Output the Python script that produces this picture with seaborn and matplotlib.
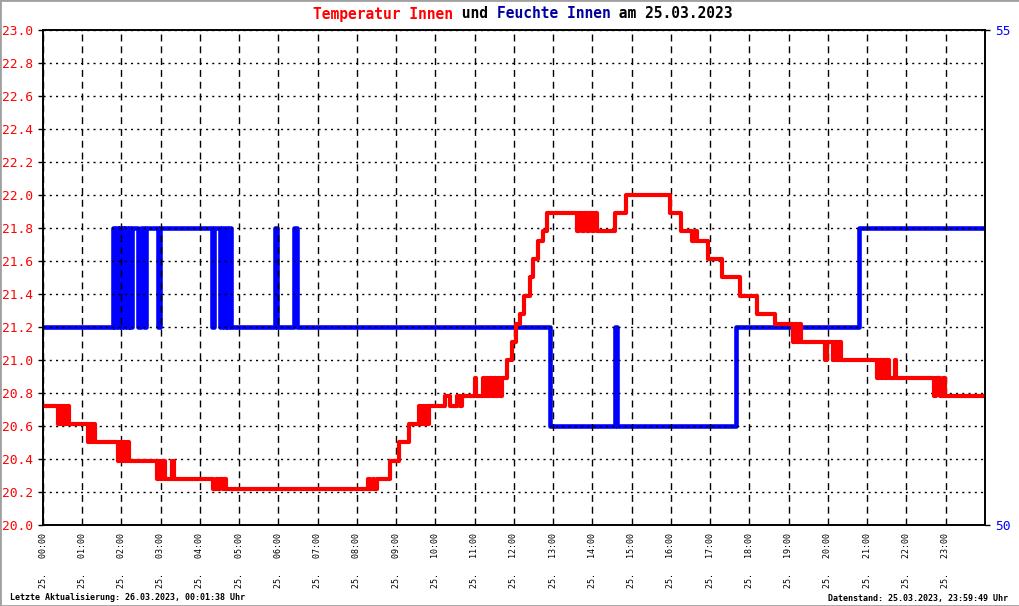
import numpy as np
import pandas as pd
import matplotlib
matplotlib.use('Agg')
import matplotlib.pyplot as plt
from matplotlib.patches import Rectangle
from matplotlib.ticker import FormatStrFormatter
import seaborn as sns

# Temperatur Innen (°C) als Stufenwerte, Zeit in Stunden
temp_zeit = [0.00, 0.38, 0.42, 0.47, 0.52, 0.57, 0.62, 0.66,
             1.15, 1.19, 1.25, 1.29, 1.32,
             1.90, 1.95, 2.00, 2.05, 2.10, 2.15, 2.20,
             2.90, 2.95, 3.00, 3.05, 3.10, 3.28, 3.33,
             4.33, 4.40, 4.46, 4.52, 4.58, 4.62, 4.66,
             8.28, 8.33, 8.40, 8.44, 8.50,
             8.84, 9.07, 9.33,
             9.58, 9.62, 9.67, 9.71, 9.76, 9.80, 9.84,
             10.24, 10.37, 10.55, 10.62, 10.68,
             11.00, 11.04,
             11.20, 11.25, 11.30, 11.35, 11.40, 11.45, 11.50, 11.55, 11.60, 11.65, 11.70,
             11.82, 11.95, 12.05, 12.15, 12.25, 12.40, 12.48, 12.60, 12.74, 12.84,
             13.60, 13.65, 13.72, 13.78, 13.85, 13.92, 13.98, 14.05, 14.12,
             14.57, 14.85, 15.97, 16.25,
             16.53, 16.60, 16.66,
             16.94, 17.30, 17.76, 18.20, 18.65,
             19.10, 19.15, 19.20, 19.25, 19.30,
             19.92, 19.97,
             20.13, 20.18, 20.23, 20.28, 20.33,
             21.25, 21.30, 21.35, 21.40, 21.45, 21.50, 21.55, 21.70, 21.74,
             22.70, 22.76, 22.86, 22.93, 22.98,
             24.00]
temp_wert = [20.72, 20.61, 20.72, 20.61, 20.72, 20.61, 20.72, 20.61,
             20.50, 20.61, 20.50, 20.61, 20.50,
             20.39, 20.50, 20.39, 20.50, 20.39, 20.50, 20.39,
             20.28, 20.39, 20.28, 20.39, 20.28, 20.39, 20.28,
             20.22, 20.28, 20.22, 20.28, 20.22, 20.28, 20.22,
             20.28, 20.22, 20.28, 20.22, 20.28,
             20.39, 20.50, 20.61,
             20.72, 20.61, 20.72, 20.61, 20.72, 20.61, 20.72,
             20.78, 20.72, 20.78, 20.72, 20.78,
             20.89, 20.78,
             20.89, 20.78, 20.89, 20.78, 20.89, 20.78, 20.89, 20.78, 20.89, 20.78, 20.89,
             21.00, 21.11, 21.22, 21.28, 21.39, 21.50, 21.61, 21.72, 21.78, 21.89,
             21.78, 21.89, 21.78, 21.89, 21.78, 21.89, 21.78, 21.89, 21.78,
             21.89, 22.00, 21.89, 21.78,
             21.72, 21.78, 21.72,
             21.61, 21.50, 21.39, 21.28, 21.22,
             21.11, 21.22, 21.11, 21.22, 21.11,
             21.00, 21.11,
             21.00, 21.11, 21.00, 21.11, 21.00,
             20.89, 21.00, 20.89, 21.00, 20.89, 21.00, 20.89, 21.00, 20.89,
             20.78, 20.89, 20.78, 20.89, 20.78,
             20.78]

# Feuchte Innen (%)
feuchte_zeit = [0.00,
                1.78, 1.82, 1.86, 1.90, 1.94, 1.98, 2.02, 2.06, 2.10, 2.14, 2.18, 2.22, 2.27,
                2.42, 2.50, 2.57, 2.63, 2.93, 2.97,
                4.30, 4.36, 4.50, 4.55, 4.60, 4.65, 4.70, 4.74, 4.78,
                5.90, 5.96, 6.40, 6.46,
                12.92, 14.57, 14.62, 17.66, 20.80, 24.00]
feuchte_wert = [52,
                53, 52, 53, 52, 53, 52, 53, 52, 53, 52, 53, 52, 53,
                52, 53, 52, 53, 52, 53,
                52, 53, 52, 53, 52, 53, 52, 53, 52,
                53, 52, 53, 52,
                51, 52, 51, 52, 53, 53]

stunden = list(range(24))
stunden_labels = [f'25.   {h:02d}:00' for h in stunden]
temp_ticks = [20.0, 20.2, 20.4, 20.6, 20.8, 21.0, 21.2, 21.4, 21.6, 21.8,
              22.0, 22.2, 22.4, 22.6, 22.8, 23.0]
feuchte_ticks = [50, 55]

ROT = '#ff0000'
BLAU = '#0000ff'

sns.set_theme(style='white')
plt.rcParams['font.family'] = ['DejaVu Sans Mono', 'DejaVu Sans']
plt.rcParams['lines.scale_dashes'] = False

fig = plt.figure(figsize=(10.2, 6.06), dpi=100)
ax = fig.add_axes([43 / 1020, 81 / 606, 942 / 1020, 495 / 606])
ax2 = ax.twinx()
# rote Linie und Gitter ueber der blauen Linie
ax.set_zorder(2)
ax2.set_zorder(1)
ax.patch.set_visible(False)

df_f = pd.DataFrame({'zeit': feuchte_zeit, 'wert': feuchte_wert})
df_t = pd.DataFrame({'zeit': temp_zeit, 'wert': temp_wert})
sns.lineplot(data=df_f, x='zeit', y='wert', ax=ax2, color=BLAU, lw=3.3,
             drawstyle='steps-post', estimator=None)
sns.lineplot(data=df_t, x='zeit', y='wert', ax=ax, color=ROT, lw=3.0,
             drawstyle='steps-post', estimator=None)

ax.set_xlim(0, 24)
ax.set_ylim(20, 23)
ax2.set_ylim(50, 55)
ax.set_xlabel('')
ax.set_ylabel('')
ax2.set_ylabel('')

ax.set_xticks(stunden)
ax.set_xticklabels(stunden_labels)
ax.set_yticks(temp_ticks)
ax.yaxis.set_major_formatter(FormatStrFormatter('%.1f'))
ax2.set_yticks(feuchte_ticks)
ax2.grid(False)

ax.set_axisbelow(True)
ax.yaxis.grid(True, color='black', lw=1, linestyle=(0, (1.5, 3)))
ax.xaxis.grid(True, color='black', lw=1, linestyle=(0, (5, 3.5)))

ax.tick_params(axis='x', bottom=True, length=0, pad=6, labelsize=6,
               labelrotation=90, labelcolor='black')
ax.tick_params(axis='y', left=True, length=3.6, width=1, color='black',
               pad=3.4, labelsize=9.3, labelcolor=ROT)
ax2.tick_params(axis='y', right=True, length=3.6, width=1, color='black',
                pad=3.4, labelsize=9.3, labelcolor=BLAU)

for a in (ax, ax2):
    for sp in a.spines.values():
        sp.set_color('black')
        sp.set_linewidth(1.2)

# Titel in mehreren Farben
t1 = fig.text(313 / 1020, 1 - 14 / 606, 'Temperatur Innen', color=ROT,
              fontsize=10.5, weight='bold', va='center', ha='left')
teile = [(' und ', 'black'), ('Feuchte Innen', '#0000a0'), (' am 25.03.2023', 'black')]
prev = t1
for txt, col in teile:
    prev = ax.annotate(txt, xy=(1, 0), xycoords=prev, va='bottom', ha='left',
                       color=col, fontsize=10.5, weight='bold', annotation_clip=False)

fig.text(10 / 1020, 1 - 598 / 606, 'Letzte Aktualisierung: 26.03.2023, 00:01:38 Uhr',
         fontsize=6, weight='bold', va='center', ha='left', color='black')
fig.text(1008 / 1020, 1 - 598 / 606, 'Datenstand: 25.03.2023, 23:59:49 Uhr',
         fontsize=6, weight='bold', va='center', ha='right', color='black')

fig.add_artist(Rectangle((0, 0), 1, 1, transform=fig.transFigure, fill=False,
                         edgecolor='#a0a0a0', lw=2))

fig.savefig('out.png', dpi=100)
